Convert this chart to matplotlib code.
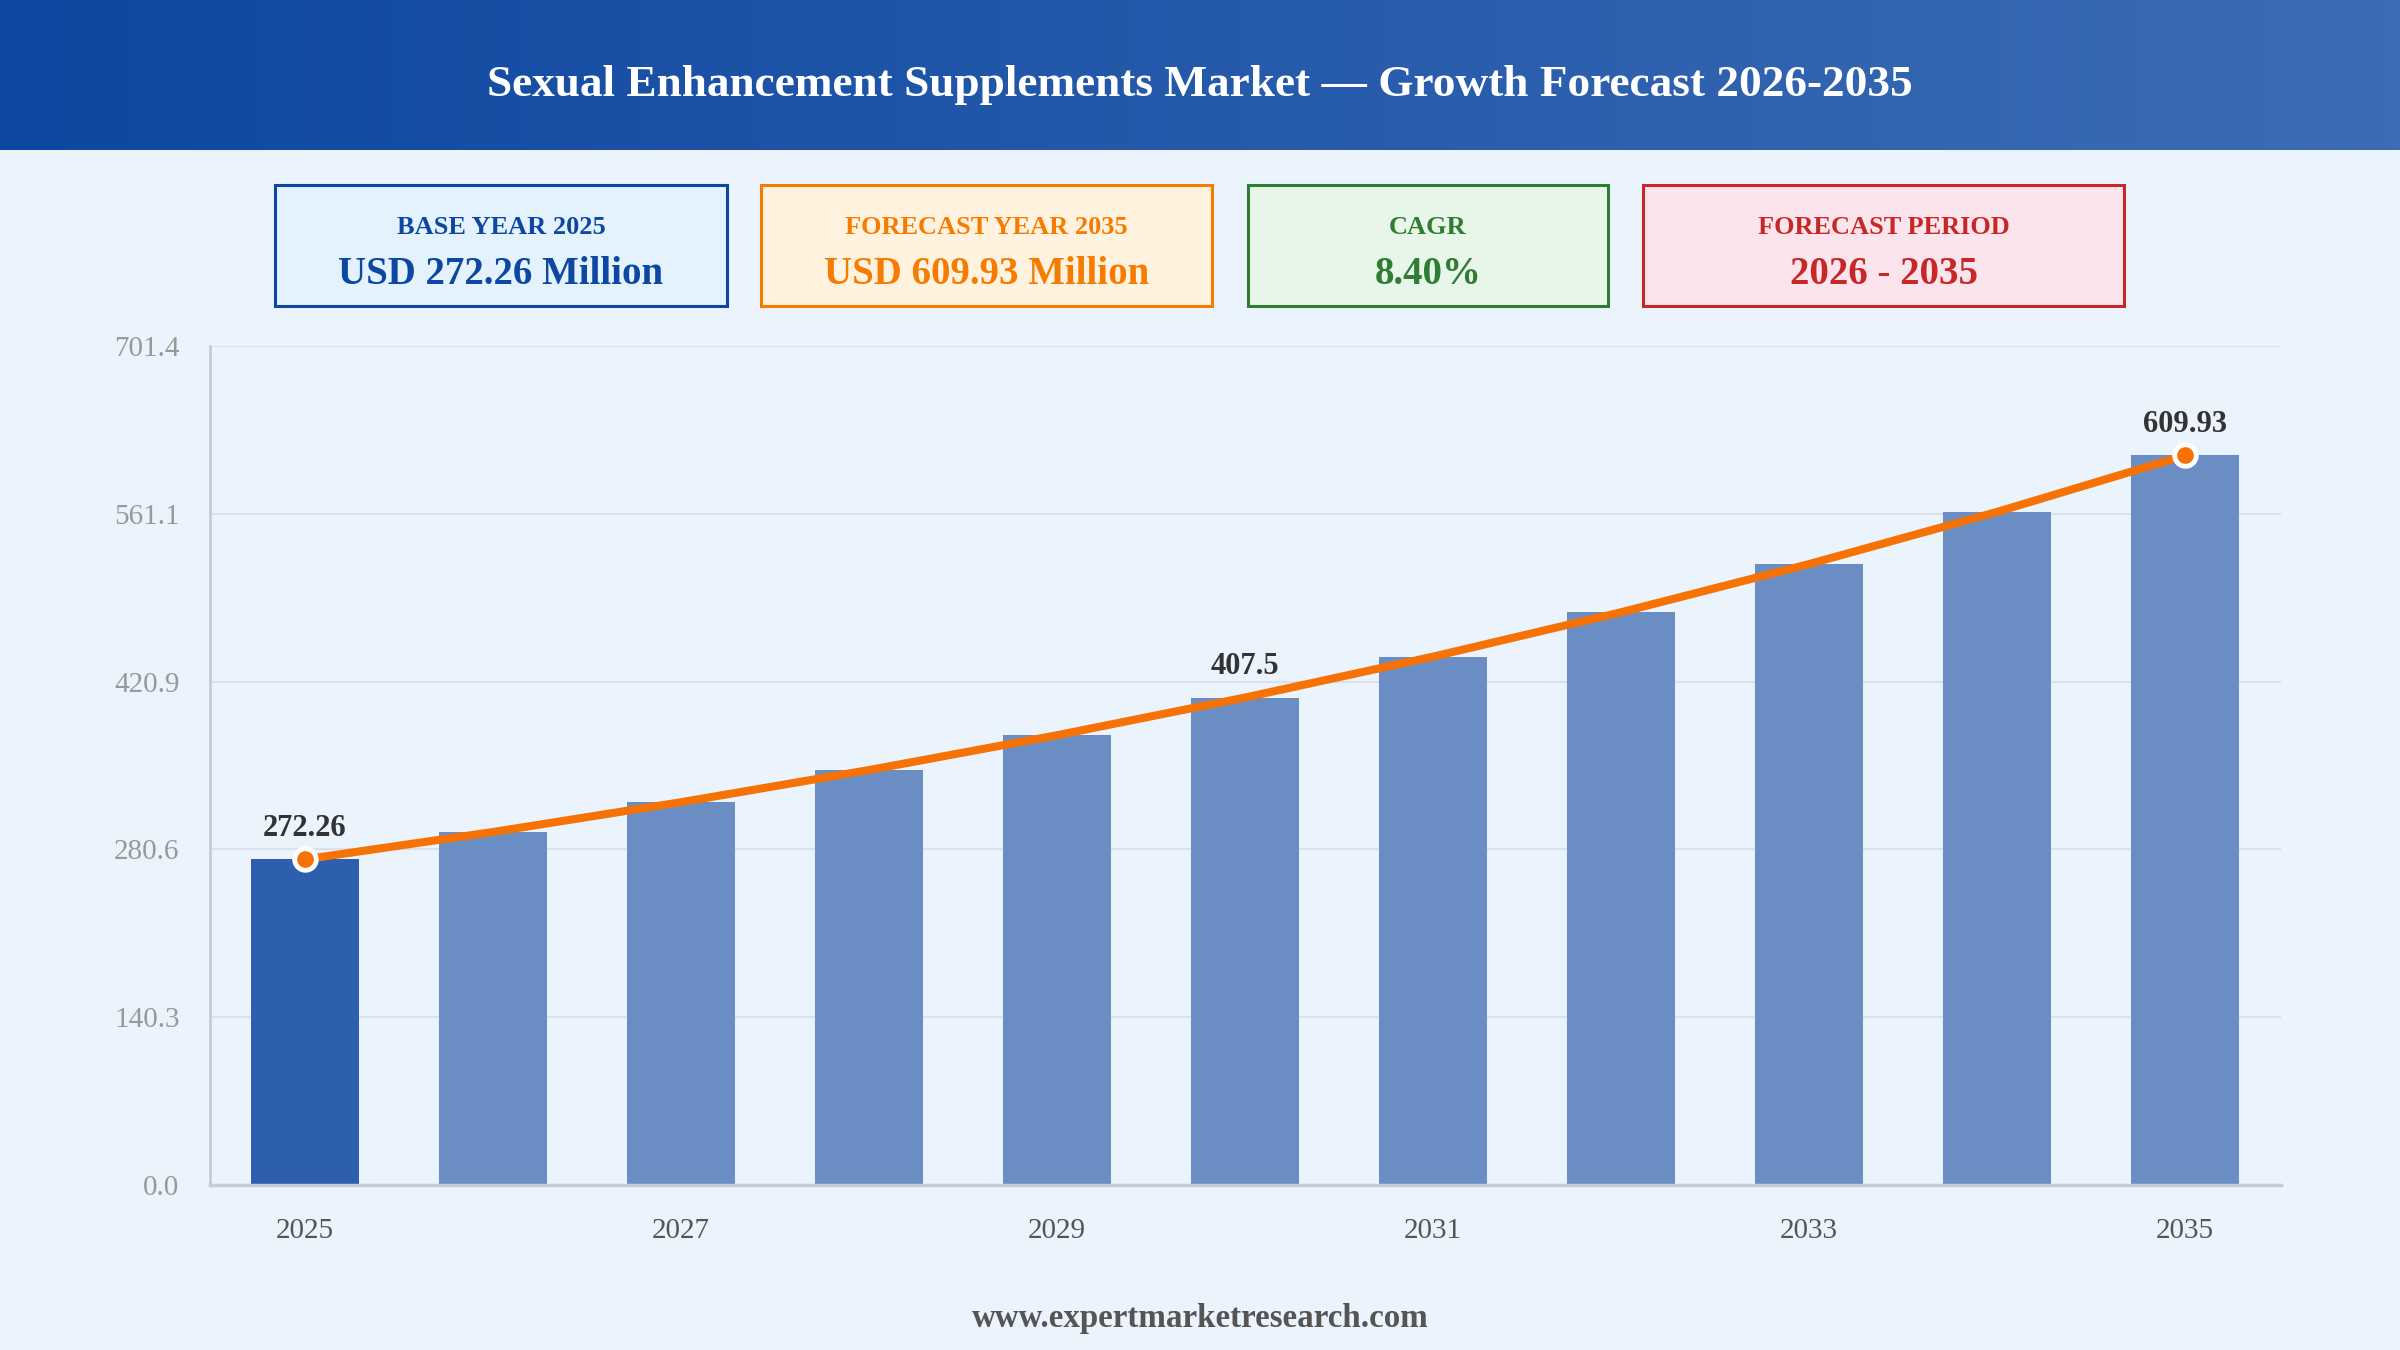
import numpy as np
import matplotlib
matplotlib.use("Agg")
import matplotlib.pyplot as plt
from matplotlib.patches import Rectangle
from matplotlib.colors import LinearSegmentedColormap

# ---- data ----
years = [2025, 2026, 2027, 2028, 2029, 2030, 2031, 2032, 2033, 2034, 2035]
values = [272.26, 295.1, 320.0, 346.9, 376.0, 407.5, 441.7, 478.8, 519.1, 562.7, 609.93]
labeled_years = [2025, 2030, 2035]
label_texts = ["272.26", "407.5", "609.93"]
marker_years = [2025, 2035]
xtick_years = [2025, 2027, 2029, 2031, 2033, 2035]
ytick_values = [0.0, 140.3, 280.6, 420.9, 561.1, 701.4]
ytick_labels = ["0.0", "140.3", "280.6", "420.9", "561.1", "701.4"]
title = "Sexual Enhancement Supplements Market \u2014 Growth Forecast 2026-2035"
box_titles = ["BASE YEAR 2025", "FORECAST YEAR 2035", "CAGR", "FORECAST PERIOD"]
box_values = ["USD 272.26 Million", "USD 609.93 Million", "8.40%", "2026 - 2035"]
footer = "www.expertmarketresearch.com"

# ---- style ----
SERIF = ["Liberation Serif", "DejaVu Serif"]
BG = "#EBF3FC"
BAR_FIRST = "#2E5FAC"
BAR_OTHER = "#6A8EC4"
LINE = "#F77205"
W, H = 2400, 1350

fig = plt.figure(figsize=(24, 13.5), dpi=100)
fig.patch.set_facecolor(BG)

# background overlay axes in pixel coordinates
bg = fig.add_axes([0, 0, 1, 1], zorder=0)
bg.set_xlim(0, W)
bg.set_ylim(H, 0)
bg.axis("off")

# header gradient
cmap = LinearSegmentedColormap.from_list("hdr", ["#0D47A1", "#3D6CB4"])
grad = np.linspace(0, 1, 256).reshape(1, -1)
bg.imshow(grad, extent=[0, W, 150, 0], cmap=cmap, aspect="auto", zorder=1)
bg.text(W / 2, 85, title, color="white", fontsize=32.6, fontweight="bold",
        family=SERIF, ha="center", va="center", zorder=2)

# KPI boxes
boxes = [(275, 727), (761, 1212), (1248, 1608), (1643, 2124)]
edge_cols = ["#0D47A1", "#F57C00", "#2E7D32", "#C62828"]
fill_cols = ["#E3F2FD", "#FFF3E0", "#E8F5E9", "#FCE4EC"]
text_cols = ["#0D47A1", "#F57C00", "#2E7D32", "#C62828"]
for (x0, x1), ec, fc, tc, bt, bv in zip(boxes, edge_cols, fill_cols, text_cols,
                                         box_titles, box_values):
    bg.add_patch(Rectangle((x0, 185), x1 - x0, 121, facecolor=fc, edgecolor=ec,
                           linewidth=2.2, zorder=2))
    xc = (x0 + x1) / 2
    bg.text(xc, 227, bt, color=tc, fontsize=19, fontweight="bold", family=SERIF,
            ha="center", va="center", zorder=3)
    bg.text(xc, 274, bv, color=tc, fontsize=28, fontweight="bold", family=SERIF,
            ha="center", va="center", zorder=3)

bg.text(W / 2, 1318, footer, color="#555555", fontsize=23.8, fontweight="bold",
        family=SERIF, ha="center", va="center", zorder=2)

# ---- chart axes ----
ax = fig.add_axes([210 / W, 1 - 1185 / H, (2281 - 210) / W, (1185 - 346) / H], zorder=2)
ax.set_facecolor("none")
x = np.arange(len(years))
colors = [BAR_FIRST] + [BAR_OTHER] * (len(years) - 1)
ax.bar(x, values, width=0.575, color=colors, zorder=2)
ax.plot(x, values, color=LINE, linewidth=5.8, solid_capstyle="round", zorder=3)
mi = [years.index(y) for y in marker_years]
ax.plot(x[mi], [values[i] for i in mi], linestyle="none", marker="o",
        markersize=15.5, markerfacecolor=LINE, markeredgecolor="white",
        markeredgewidth=3.5, zorder=4)
for yr, txt in zip(labeled_years, label_texts):
    i = years.index(yr)
    ax.annotate(txt, (x[i], values[i]), xytext=(0, 22.5), textcoords="offset points",
                ha="center", va="center", fontsize=22, fontweight="bold",
                color="#333333", family=SERIF, zorder=5)

ax.set_xlim(-0.505, 10.51)
ax.set_ylim(0, 701.4)
ax.set_yticks(ytick_values)
ax.set_yticklabels(ytick_labels)
ax.set_xticks([years.index(y) for y in xtick_years])
ax.set_xticklabels([str(y) for y in xtick_years])
ax.tick_params(axis="both", length=0, labelsize=21, labelcolor="#999999")
ax.tick_params(axis="y", pad=22)
ax.tick_params(axis="x", pad=24, labelcolor="#555555")
for lab in ax.get_xticklabels() + ax.get_yticklabels():
    lab.set_family(SERIF)
ax.grid(axis="y", color="#DCE1E7", linewidth=1.5, zorder=0)
ax.set_axisbelow(True)
for s in ["top", "right"]:
    ax.spines[s].set_visible(False)
ax.spines["left"].set_color("#C8CCD2")
ax.spines["left"].set_linewidth(2)
ax.spines["bottom"].set_color("#C8CCD2")
ax.spines["bottom"].set_linewidth(2.5)

fig.savefig("out.png", dpi=100, facecolor=BG)
